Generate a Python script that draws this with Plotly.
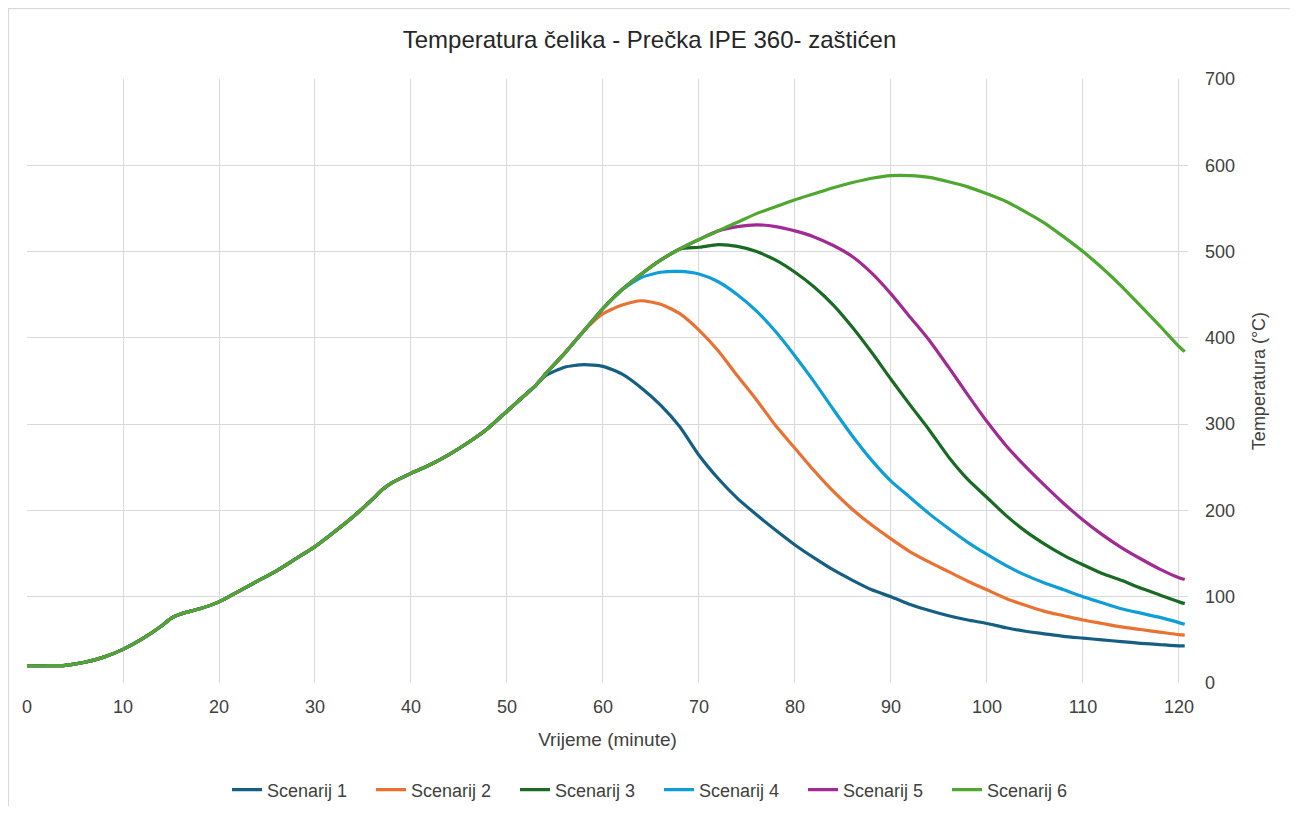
import plotly.graph_objects as go

# Shared heating curve (Scenarij 6 follows it all the way; others branch off)
t_s6 = [0, 2, 4, 6, 8, 10, 12, 14, 15, 16, 18, 20, 22, 24, 26, 28, 30, 32, 34, 36, 37, 38,
        40, 42, 44, 46, 48, 50, 52, 53, 54, 56, 58, 60, 62, 64, 66, 68, 70, 72, 74, 76, 78,
        80, 82, 84, 86, 88, 90, 92, 94, 96, 98, 100, 102, 104, 106, 108, 110, 112, 114,
        116, 118, 120, 120.6]
T_s6 = [20, 20, 20.5, 24, 30, 39, 51, 66, 75, 80, 86, 94, 106, 118, 130, 144, 158, 175, 193,
        213, 224, 232, 243, 253, 265, 279, 295, 315, 335, 345, 358, 382, 408, 434, 456, 474,
        490, 503, 514, 524, 534, 544, 552, 560, 567, 574, 580, 585, 588, 588, 586, 581, 575,
        567, 558, 546, 533, 517, 500, 481, 460, 437, 414, 390, 384]

# Cooling branches (time in minutes, temperature in °C)
t_s1 = [54, 56, 58, 60, 62, 64, 66, 68, 70, 72, 74, 76, 78, 80, 82, 84, 86, 88, 90,
        92, 94, 96, 98, 100, 102, 104, 106, 108, 110, 112, 114, 116, 118, 120, 120.6]
T_s1 = [356, 366, 369, 367, 358, 342, 322, 297, 264, 237, 214, 195, 177, 160, 145,
        131, 119, 108, 100, 91, 84, 78, 73, 69, 64, 60, 57, 54, 52, 50, 48, 46, 44.5, 43, 43]

t_s2 = [60, 62, 64, 66, 68, 70, 72, 74, 76, 78, 80, 82, 84, 86, 88, 90, 92, 94, 96, 98, 100,
        102, 104, 106, 108, 110, 112, 114, 116, 118, 120, 120.6]
T_s2 = [428, 438, 443, 439, 428, 409, 385, 356, 328, 298, 272, 246, 222, 201, 183, 167, 152,
        140, 129, 118, 108, 98, 90, 83, 78, 73, 69, 65, 62, 59, 56, 55.5]

t_s3 = [70, 72, 74, 76, 78, 80, 82, 84, 86, 88, 90, 92, 94, 96, 98, 100, 102, 104, 106, 108,
        110, 112, 114, 116, 118, 120, 120.6]
T_s3 = [505, 508, 506, 500, 490, 476, 459, 438, 412, 383, 352, 322, 293, 262, 236, 215, 194,
        176, 161, 148, 137, 127, 119, 110, 102, 94, 92]

t_s4 = [64, 66, 68, 70, 72, 74, 76, 78, 80, 82, 84, 86, 88, 90, 92, 94, 96, 98, 100, 102,
        104, 106, 108, 110, 112, 114, 116, 118, 120, 120.6]
T_s4 = [470, 476, 477, 474, 465, 450, 431, 407, 379, 349, 317, 286, 258, 234, 215, 196, 179,
        163, 149, 136, 125, 116, 108, 100, 93, 86, 81, 76, 70, 68]

t_s5 = [72, 74, 76, 78, 80, 82, 84, 86, 88, 90, 92, 94, 96, 98, 100, 102, 104, 106, 108,
        110, 112, 114, 116, 118, 120, 120.6]
T_s5 = [524, 529, 531, 529, 524, 517, 507, 494, 475, 451, 424, 397, 366, 334, 303, 275, 251,
        229, 208, 189, 172, 157, 144, 132, 122, 120]

names = ["Scenarij 1", "Scenarij 2", "Scenarij 3", "Scenarij 4", "Scenarij 5", "Scenarij 6"]
colors = ["#156082", "#E97132", "#196B24", "#0F9ED5", "#A02B93", "#4EA72E"]
x_ticks = [0, 10, 20, 30, 40, 50, 60, 70, 80, 90, 100, 110, 120]
y_ticks = [0, 100, 200, 300, 400, 500, 600, 700]


def with_prefix(tb, Tb):
    start = tb[0]
    xs = [t for t in t_s6 if t < start] + list(tb)
    ys = [T for t, T in zip(t_s6, T_s6) if t < start] + list(Tb)
    return xs, ys


series = [with_prefix(t_s1, T_s1), with_prefix(t_s2, T_s2), with_prefix(t_s3, T_s3),
          with_prefix(t_s4, T_s4), with_prefix(t_s5, T_s5), (t_s6, T_s6)]

FONT = "Liberation Sans, Arial, sans-serif"
W, H = 1282, 798          # page body has an 8px margin
L, R, T, B = 19, 1180, 71, 675   # plot area in figure pixels
PW, PH = R - L, B - T

fig = go.Figure()
for (xs, ys), nm, c in zip(series, names, colors):
    fig.add_trace(go.Scatter(x=xs, y=ys, name=nm, mode="lines",
                             line=dict(color=c, width=3.2, shape="spline", smoothing=0.6)))

fig.update_layout(
    width=W, height=H,
    paper_bgcolor="white", plot_bgcolor="white",
    margin=dict(l=L, r=W - R, t=T, b=H - B, autoexpand=False),
    font=dict(family=FONT, size=18, color="#404040"),
    title=dict(text="Temperatura čelika - Prečka IPE 360- zaštićen",
               x=(L + PW / 2 + 42) / W, xanchor="center", y=1 - 32 / H, yanchor="middle",
               font=dict(size=24, color="#262626")),
    showlegend=True,
    legend=dict(orientation="h", x=(219 - L) / PW, xanchor="left", y=(B - 782) / PH,
                yanchor="middle", font=dict(size=18, color="#404040"),
                bgcolor="rgba(0,0,0,0)", entrywidth=99, entrywidthmode="pixels"),
    xaxis=dict(range=[0, 120.94], tickmode="array", tickvals=x_ticks,
               showgrid=True, gridcolor="#D9D9D9", gridwidth=1.3, zeroline=False,
               showline=False, ticks="", tickfont=dict(size=18), ticklabelstandoff=11,
               automargin=False,
               title=dict(text="Vrijeme (minute)", font=dict(size=19), standoff=16)),
    yaxis=dict(range=[0, 700], tickmode="array", tickvals=y_ticks, side="right",
               showgrid=True, gridcolor="#D9D9D9", gridwidth=1.3, zeroline=False,
               showline=False, ticks="", tickfont=dict(size=18), ticklabelstandoff=16,
               automargin=False,
               title=dict(text="Temperatura (°C)", font=dict(size=18), standoff=18)),
    shapes=[dict(type="rect", xref="paper", yref="paper",
                 x0=(0.5 - L) / PW, x1=(1284 - L) / PW,
                 y0=(B - 830) / PH, y1=(B - 0.5) / PH,
                 line=dict(color="#D9D9D9", width=1.3), fillcolor="rgba(0,0,0,0)",
                 layer="below")],
)

fig.write_html("out.html")
